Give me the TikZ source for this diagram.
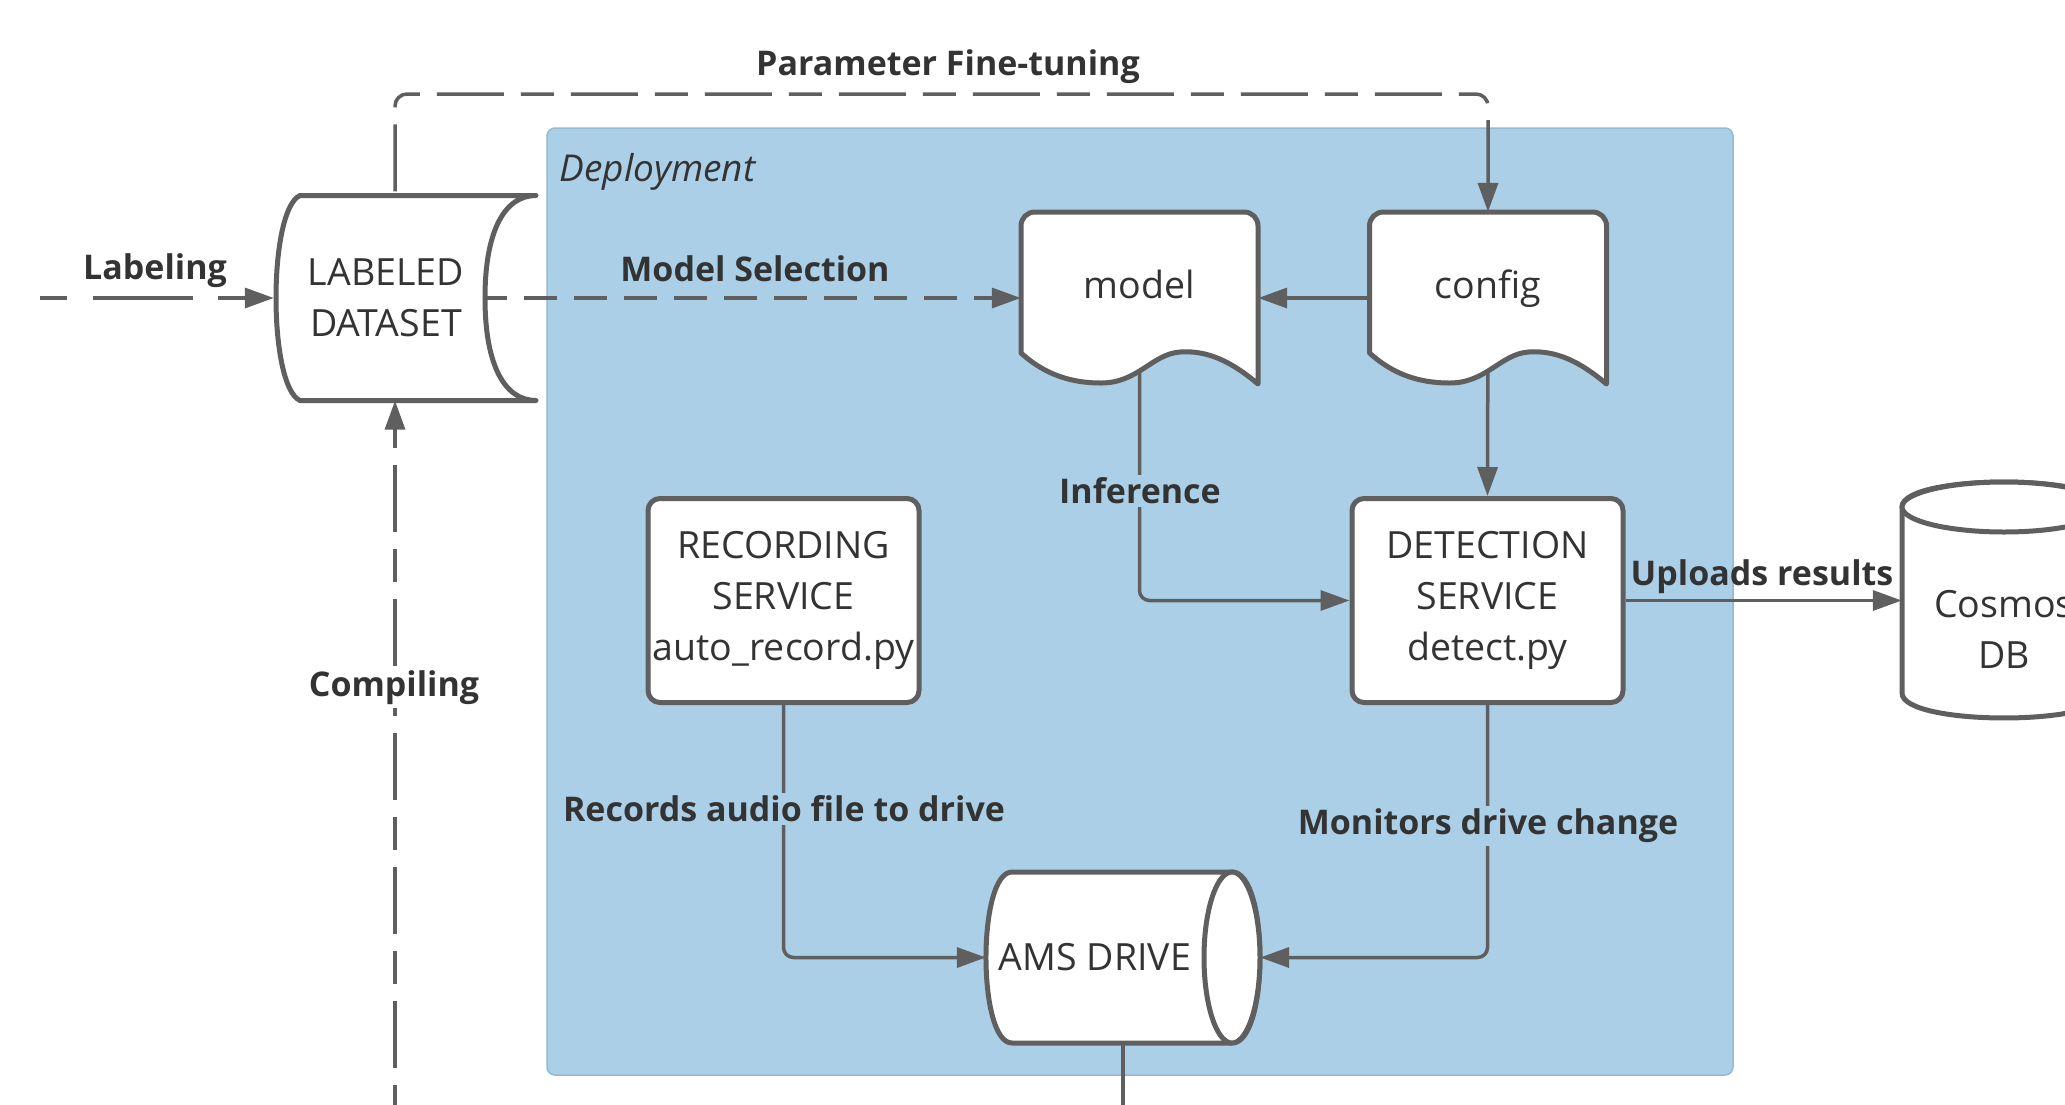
\documentclass[tikz,border=0pt]{standalone}
\usepackage{fontspec}
\setmainfont{Open Sans}
\usetikzlibrary{arrows.meta,calc}
\definecolor{linegray}{RGB}{95,95,95}
\definecolor{txt}{RGB}{51,51,51}
\definecolor{deploy}{RGB}{171,207,231}
\definecolor{deployedge}{RGB}{150,185,210}
\pgfdeclarelayer{bg}
\pgfdeclarelayer{lines}
\pgfdeclarelayer{shapes}
\pgfsetlayers{bg,lines,shapes,main}

\tikzset{
  nodetext/.style={font=\fontsize{37.5}{51}\selectfont, align=center, text=txt},
  flowlabel/.style={font=\fontsize{34}{38}\selectfont\bfseries, text=txt, inner sep=3pt},
  frame/.style 2 args={minimum width=#1pt, minimum height=#2pt, inner sep=0pt},
  shp/.style={draw=linegray, line width=5pt, fill=white, line join=round},
  box/.style={shp, rounded corners=12pt, minimum width=271pt, minimum height=204pt,
              inner sep=0pt, nodetext},
  line/.style={draw=linegray, line width=3.5pt},
  conn/.style={line, -{Triangle[length=29pt,width=20pt]}},
  dashLong/.style={dash pattern=on 67pt off 17pt on 33pt off 17pt},
  dashUp/.style={dash pattern=on 33pt off 17pt on 67pt off 17pt},
  dashEven/.style={dash pattern=on 33pt off 17pt},
  dashIn/.style={dash pattern=on 27pt off 26pt on 100pt off 25pt},
}

\begin{document}
\begin{tikzpicture}[x=1pt,y=-1pt]
\useasboundingbox (0,0) rectangle (2065,1104);
\clip (0,0) rectangle (2065,1104);

% ---- nodes ----
\node[frame={242}{205}, label={[nodetext, xshift=-9pt]center:{LABELED\\DATASET}}] (ds) at (395,298) {};
\node[frame={237}{172}, label={[nodetext, text height=28pt, text depth=0pt, yshift=14pt]center:model}] (model) at (1139.5,298) {};
\node[frame={237}{172}, label={[nodetext, text height=28pt, text depth=0pt, yshift=14pt]center:config}] (cfg) at (1488,298) {};
\node[box] (rec) at (783.5,600.5) {RECORDING\\SERVICE\\auto\_record.py};
\node[box] (det) at (1487.5,600.5) {DETECTION\\SERVICE\\detect.py};
\node[frame={274}{171}, label={[nodetext, xshift=-28pt]center:{AMS DRIVE}}] (ams) at (1123,957.5) {};
\node[frame={204}{235}, label={[nodetext, yshift=-29pt]center:{Cosmos\\DB}}] (cosmos) at (2004,600.5) {};

\node[font=\fontsize{37}{40}\selectfont\itshape, text=txt, anchor=west] (deptitle) at (556,172) {Deployment};
\node[flowlabel] (tLabeling) at (155,271) {Labeling};
\node[flowlabel] (tModelSel) at (755,269) {Model Selection};
\node[flowlabel] (tTuning) at (948,67) {Parameter Fine-tuning};
\node[flowlabel, fill=deploy] (tInference) at (1140,491) {Inference};
\node[flowlabel] (tUpload) at (1762,577) {Uploads results};
\node[flowlabel, fill=white] (tCompile) at (394,688) {Compiling};
\node[flowlabel, fill=deploy] (tRecord) at (784,809) {Records audio file to drive};
\node[flowlabel, fill=deploy] (tMonitor) at (1488,826) {Monitors drive change};

% ---- deployment area ----
\begin{pgfonlayer}{bg}
  \draw[fill=deploy, draw=deployedge, line width=1.5pt, rounded corners=8pt]
    (547,128) rectangle (1733,1075);
\end{pgfonlayer}

% ---- connectors ----
\begin{pgfonlayer}{lines}
  \coordinate (lstart) at (40,298);
  \draw[conn, dashIn] (lstart) -- (ds.west);
  \draw[conn, dashEven, dash phase=21pt] (ds.center) -- (model.west);
  \coordinate (tunerow) at (0,94);
  \draw[conn, dashLong, dash phase=130pt, rounded corners=12pt]
    (ds.north) -- (ds.north |- tunerow) -| (cfg.north);
  \coordinate (cstart) at (395,1118);
  \draw[conn, dashUp] (cstart) -- (ds.south);
  \draw[conn] (cfg.west) -- (model.east);
  \draw[conn] (cfg.center) -- (det.north);
  \draw[conn, rounded corners=10pt] (model.center) |- (det.west);
  \draw[conn] (det.east) -- (det.east -| cosmos.west);
  \draw[conn, rounded corners=10pt] (rec.center) |- (ams.west);
  \draw[conn, rounded corners=10pt] (det.center) |- (ams.east);
  \coordinate (amsout) at (1123,1112);
  \draw[line] (ams.center) -- (amsout);
\end{pgfonlayer}

% ---- shape outlines ----
\begin{pgfonlayer}{shapes}
  % stored data
  \path[shp] (536,195.5) -- (300,195.5) .. controls (268,210) and (268,386) .. (300,400.5)
    -- (536,400.5) .. controls (505,400.5) and (485,366) .. (485,298)
    .. controls (485,230) and (505,195.5) .. (536,195.5) -- cycle;
  % documents
  \foreach \dx in {0,348.5}{
    \begin{scope}[xshift=\dx pt]
      \path[shp] (1021,353) -- (1021,226) .. controls (1021,218) and (1027,212) .. (1035,212)
        -- (1244,212) .. controls (1252,212) and (1258,218) .. (1258,226) -- (1258,384)
        .. controls (1232,362) and (1208,350) .. (1180,352)
        .. controls (1152,354) and (1138,383) .. (1101,383)
        .. controls (1064,383) and (1040,370) .. (1021,353) -- cycle;
    \end{scope}
  }
  % horizontal drum
  \path[shp] (1012,872) -- (1232,872) .. controls (1269.3,872) and (1269.3,1043) .. (1232,1043)
    -- (1012,1043) .. controls (977.3,1043) and (977.3,872) .. (1012,872) -- cycle;
  \draw[shp] (1232,957.5) ellipse [x radius=28pt, y radius=85.5pt];
  % database
  \path[shp] (1902,507) -- (1902,693) .. controls (1902,726.3) and (2106,726.3) .. (2106,693)
    -- (2106,507) .. controls (2106,473.7) and (1902,473.7) .. (1902,507) -- cycle;
  \draw[shp] (2004,507) ellipse [x radius=102pt, y radius=25pt];
\end{pgfonlayer}
\end{tikzpicture}
\end{document}
